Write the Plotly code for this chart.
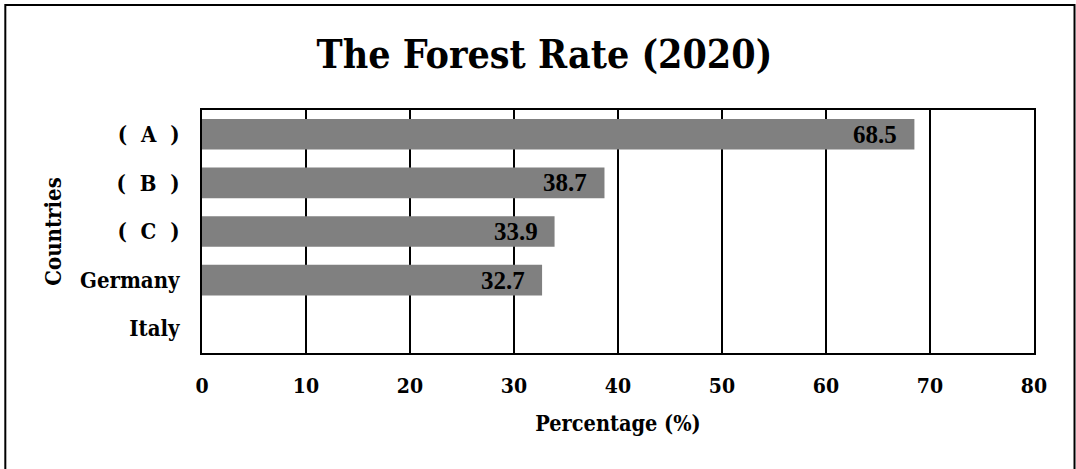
import plotly.graph_objects as go

countries = ["(\u2002\u2009A\u2002\u2009)", "(\u2002\u2009B\u2002\u2009)", "(\u2002\u2009C\u2002\u2009)", "Germany", "Italy"]
forest_rate = [68.5, 38.7, 33.9, 32.7, None]
x_ticks = [0, 10, 20, 30, 40, 50, 60, 70, 80]

SERIF = "DejaVu Serif Condensed, DejaVu Serif, serif"
NUM = "Liberation Serif, Times New Roman, serif"

fig = go.Figure()
fig.add_trace(go.Bar(
    x=forest_rate,
    y=countries,
    orientation="h",
    marker=dict(color="#808080", line=dict(width=0)),
    width=0.63,
    hoverinfo="x+y",
))

# value labels at the end of each bar
for c, v in zip(countries, forest_rate):
    if v is None:
        continue
    fig.add_annotation(
        x=v, y=c, text=f"<b>{v}</b>", showarrow=False,
        xanchor="right", xshift=-15,
        font=dict(family=NUM, size=25, color="black"),
    )

# outer frame
fig.add_shape(type="rect", xref="paper", yref="paper",
              x0=-0.2364, x1=1.0487, y0=-0.7, y1=1.432,
              line=dict(color="black", width=2), layer="below")

fig.update_layout(
    width=1076, height=469,
    margin=dict(l=202, r=42, t=110, b=116),
    paper_bgcolor="white", plot_bgcolor="white",
    showlegend=False,
    title=dict(text="<b>The Forest Rate (2020)</b>", x=0.506, xanchor="center",
               y=0.885, yanchor="middle",
               font=dict(family=SERIF, size=39, color="black")),
    xaxis=dict(
        range=[0, 80], tickvals=x_ticks, ticktext=[f"<b>{t}</b>" for t in x_ticks],
        showgrid=True, gridcolor="black", gridwidth=1.5,
        showline=True, linecolor="black", linewidth=2, mirror=True,
        zeroline=False, ticks="", ticklabelstandoff=13,
        tickfont=dict(family=SERIF, size=21, color="black"),
        title=dict(text="<b>Percentage (%)</b>", standoff=19,
                   font=dict(family=SERIF, size=21.5, color="black")),
    ),
    yaxis=dict(
        categoryorder="array", categoryarray=countries, autorange="reversed",
        showgrid=False, showline=True, linecolor="black", linewidth=2, mirror=True,
        ticks="", ticklabelstandoff=16,
        tickvals=countries, ticktext=[f"<b>{c}</b>" for c in countries],
        tickfont=dict(family=SERIF, size=22, color="black"),
        title=dict(text="<b>Countries</b>", standoff=12,
                   font=dict(family=SERIF, size=22, color="black")),
    ),
)

fig.write_html("out.html")
